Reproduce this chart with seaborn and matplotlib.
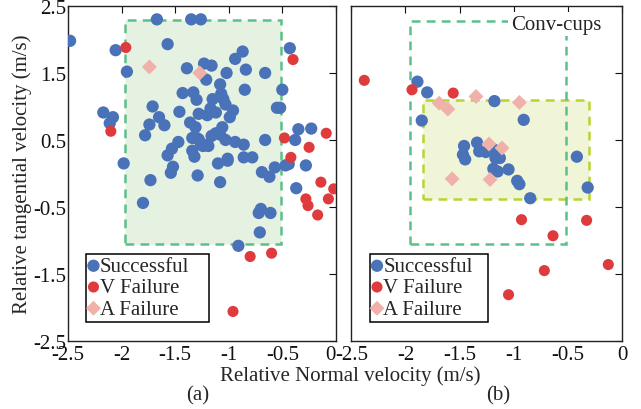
import numpy as np
import pandas as pd
import matplotlib
matplotlib.use("Agg")
import matplotlib.pyplot as plt
import seaborn as sns
from matplotlib.patches import Rectangle

sns.set_style("white")
plt.rcParams['font.family'] = ['Liberation Serif', 'DejaVu Serif']
plt.rcParams['axes.unicode_minus'] = False

# panel (a)
a_succ_x = [-2.48, -2.055, -1.95, -1.67, -1.35, -1.26, -1.57, -1.39, -1.23, -1.16, -1.21, -1.08, -1.02,
            -0.94, -0.87, -0.84, -0.85, -0.66, -0.50, -0.43, -0.55, -0.52, -2.17, -2.08, -2.11, -1.71,
            -1.65, -1.74, -1.60, -1.78, -1.98, -1.73, -1.43, -1.33, -1.30, -1.46, -1.28, -1.20, -1.15,
            -1.17, -1.12, -1.07, -1.05, -1.03, -0.96, -0.99, -1.36, -1.31, -1.47, -1.53, -1.57, -1.52,
            -1.54, -1.34, -1.30, -1.34, -1.32, -1.29, -1.26, -1.20, -1.16, -1.12, -1.06, -1.08, -1.03,
            -0.94, -0.86, -1.10, -1.01, -1.01, -1.08, -0.86, -0.78, -0.66, -0.69, -0.62, -0.57, -0.47,
            -0.44, -0.38, -0.35, -0.23, -0.28, -0.37, -1.80, -0.70, -0.72, -0.61, -0.71, -0.91, -1.24,
            -1.19, -1.28]
a_succ_y = [1.98, 1.84, 1.52, 2.30, 2.30, 2.30, 1.93, 1.57, 1.64, 1.61, 1.40, 1.33, 1.50,
            1.71, 1.82, 1.55, 1.25, 1.50, 1.25, 1.87, 0.98, 0.98, 0.91, 0.84, 0.75, 1.00,
            0.84, 0.73, 0.72, 0.57, 0.15, -0.10, 1.20, 1.21, 1.10, 0.92, 0.89, 0.87, 1.11,
            0.97, 0.91, 1.19, 1.11, 1.03, 0.94, 0.84, 0.76, 0.69, 0.47, 0.37, 0.27, 0.10,
            0.01, 0.53, 0.53, 0.34, 0.25, -0.03, 0.44, 0.43, 0.56, 0.60, 0.69, 0.58, 0.50,
            0.47, 0.43, 0.15, 0.22, 0.19, -0.13, 0.24, 0.24, 0.50, 0.02, -0.05, 0.09, 0.12,
            0.14, 0.50, 0.66, 0.67, 0.12, -0.22, -0.44, -0.53, -0.59, -0.59, -0.88, -1.08, 0.41,
            0.41, 0.51]
a_vfail_x = [-1.96, -0.40, -2.10, -0.48, -0.42, -0.25, -0.09, -0.14, -0.02, -0.07, -0.28, -0.26, -0.17,
             -0.80, -0.60, -0.96]
a_vfail_y = [1.88, 1.70, 0.63, 0.53, 0.24, 0.39, 0.60, -0.13, -0.23, -0.38, -0.38, -0.48, -0.62,
             -1.24, -1.19, -2.06]
a_afail_x = [-1.74, -1.27]
a_afail_y = [1.59, 1.50]

# panel (b)
b_succ_x = [-1.89, -1.80, -1.18, -1.85, -0.91, -1.46, -1.34, -1.32, -1.26, -1.19, -1.47, -1.45, -1.17,
            -1.13, -1.19, -1.15, -1.05, -0.97, -0.95, -0.85, -0.42, -0.32]
b_succ_y = [1.37, 1.21, 1.08, 0.79, 0.80, 0.41, 0.46, 0.33, 0.32, 0.36, 0.28, 0.21, 0.23,
            0.23, 0.07, 0.03, 0.06, -0.11, -0.16, -0.37, 0.25, -0.21]
b_vfail_x = [-2.38, -1.94, -1.56, -0.93, -0.33, -0.64, -0.13, -0.72, -1.05]
b_vfail_y = [1.39, 1.25, 1.20, -0.69, -0.70, -0.93, -1.36, -1.45, -1.81]
b_afail_x = [-1.35, -1.69, -1.61, -0.95, -1.23, -1.11, -1.57, -1.22]
b_afail_y = [1.15, 1.05, 0.96, 1.06, 0.44, 0.38, -0.08, -0.09]

x_ticks = [-2.5, -2, -1.5, -1, -0.5, 0]
x_tick_labels = ['-2.5', '-2', '-1.5', '-1', '-0.5', '0']
y_ticks = [-2.5, -1.5, -0.5, 0.5, 1.5, 2.5]
y_tick_labels = ['-2.5', '-1.5', '-0.5', '0.5', '1.5', '2.5']

classes = ['Successful', 'V Failure', 'A Failure']
colors = {'Successful': '#4a72b8', 'V Failure': '#e03b3c', 'A Failure': '#f0b1aa'}
markers = {'Successful': 'o', 'V Failure': 'o', 'A Failure': 'D'}
sizes = {'Successful': 78, 'V Failure': 64, 'A Failure': 58}
fs = 15


def make_df(sx, sy, vx, vy, ax_, ay_):
    parts = []
    for name, xs, ys in zip(classes, [sx, vx, ax_], [sy, vy, ay_]):
        parts.append(pd.DataFrame({'x': xs, 'y': ys, 'cls': name}))
    return pd.concat(parts, ignore_index=True)


df_a = make_df(a_succ_x, a_succ_y, a_vfail_x, a_vfail_y, a_afail_x, a_afail_y)
df_b = make_df(b_succ_x, b_succ_y, b_vfail_x, b_vfail_y, b_afail_x, b_afail_y)

fig = plt.figure(figsize=(6.41, 4.10), dpi=100)
ax1 = fig.add_axes([0.106, 0.166, 0.418, 0.817])
ax2 = fig.add_axes([0.548, 0.166, 0.423, 0.817])

green_edge = '#5cc08a'

# boxes
ax1.add_patch(Rectangle((-1.97, -1.06), 1.46, 3.35, facecolor='#e6f2e1', edgecolor=green_edge,
                        lw=1.8, ls=(0, (3.5, 2.5)), zorder=1))
ax2.add_patch(Rectangle((-1.84, -0.38), 1.53, 1.47, facecolor='#eff5d6', edgecolor='#b8d433',
                        lw=1.8, ls=(0, (3.5, 2.5)), zorder=1))
ax2.add_patch(Rectangle((-1.96, -1.06), 1.44, 3.34, facecolor='none', edgecolor=green_edge,
                        lw=1.8, ls=(0, (3.5, 2.5)), zorder=1.5))

for ax, df, lw_frac in [(ax1, df_a, 0.46), (ax2, df_b, 0.435)]:
    for name in classes:
        sub = df[df['cls'] == name]
        sns.scatterplot(data=sub, x='x', y='y', ax=ax, color=colors[name], marker=markers[name],
                        s=sizes[name], edgecolor='none', linewidth=0, label=name, zorder=3)
    ax.set_xlim(-2.5, 0)
    ax.set_ylim(-2.5, 2.5)
    ax.set_xticks(x_ticks)
    ax.set_xticklabels(x_tick_labels)
    ax.set_yticks(y_ticks)
    ax.set_xlabel('')
    ax.set_ylabel('')
    ax.tick_params(direction='in', top=True, right=True, length=5, width=0.8,
                   labelsize=fs, colors='#111111')
    ax.tick_params(axis='x', pad=3)
    ax.tick_params(axis='y', pad=1)
    for sp in ax.spines.values():
        sp.set_color('#222222')
        sp.set_linewidth(1.0)
    leg = ax.legend(loc='lower left', bbox_to_anchor=(0.068, 0.057, lw_frac, 0.2), mode='expand',
                    borderaxespad=0, fontsize=fs, handlelength=0.4, handletextpad=0.1,
                    borderpad=0.15, labelspacing=0.08, fancybox=False, framealpha=1,
                    edgecolor='black')
    leg.get_frame().set_linewidth(1.1)

ax1.set_yticklabels(y_tick_labels)
ax2.set_yticklabels([])
ax1.get_xticklabels()[-1].set_horizontalalignment('right')
ax1.set_ylabel('Relative tangential velocity (m/s)', fontsize=fs, labelpad=1)

ax2.text(-1.03, 2.23, 'Conv-cups', fontsize=fs, ha='left', va='center', zorder=4,
         bbox=dict(facecolor='white', edgecolor='none', pad=2))

fig.text(0.546, 0.083, 'Relative Normal velocity (m/s)', fontsize=fs, ha='center', va='center')
fig.text(0.308, 0.034, '(a)', fontsize=fs, ha='center', va='center')
fig.text(0.777, 0.034, '(b)', fontsize=fs, ha='center', va='center')

fig.savefig('out.png', dpi=100)
